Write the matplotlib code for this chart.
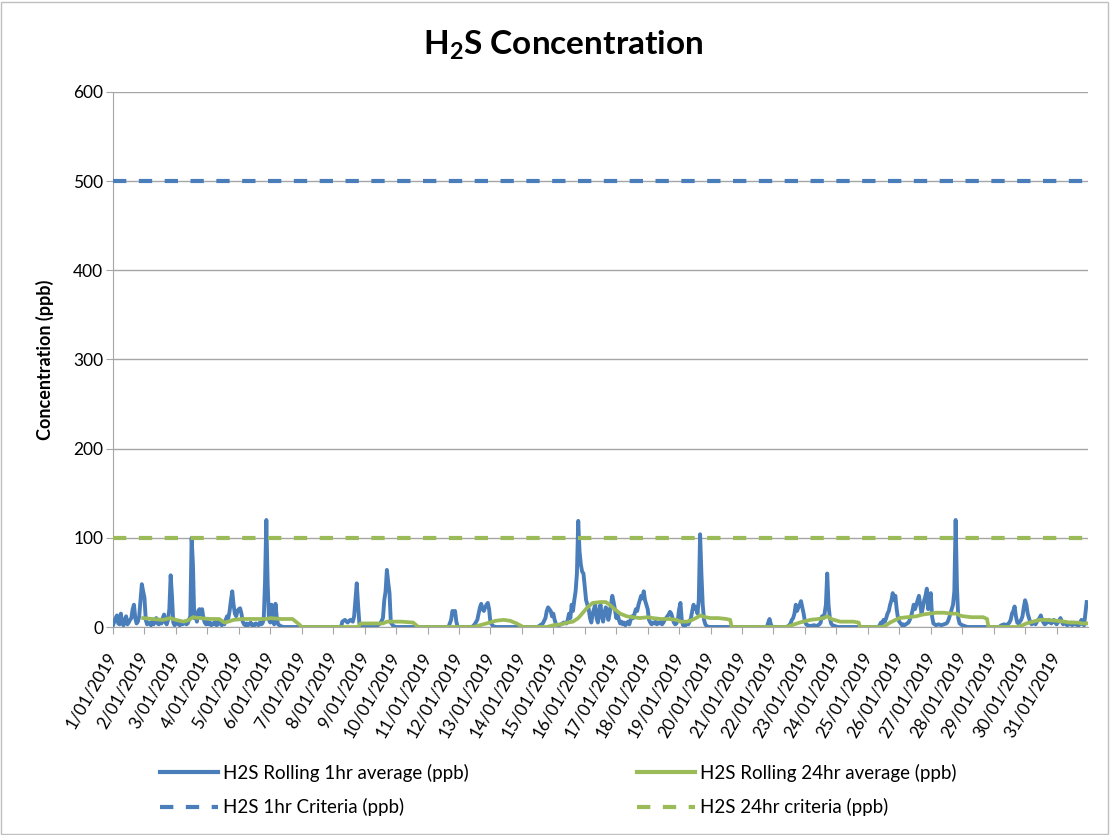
import matplotlib
matplotlib.use("Agg")
import matplotlib.pyplot as plt
from matplotlib.lines import Line2D
from matplotlib.patches import Rectangle

# ================= DATA =================
# hours since 1/01/2019 00:00 -> ppb
hr_1h = [0, 1, 2, 3, 4, 5, 6, 7, 8, 9, 10, 11, 12, 13, 14, 15, 16, 17, 18, 19,
         20, 21, 22, 23, 24, 25, 26, 27, 28, 29, 30, 31, 32, 33, 34, 35, 36, 37, 38, 39,
         40, 41, 42, 43, 44, 45, 46, 47, 48, 49, 50, 51, 52, 53, 54, 55, 56, 57, 58, 59,
         60, 61, 62, 63, 64, 65, 66, 67, 68, 69, 70, 71, 72, 73, 74, 75, 76, 77, 78, 79,
         80, 81, 82, 83, 84, 85, 86, 87, 88, 89, 90, 91, 92, 93, 94, 95, 96, 97, 98, 99,
         100, 101, 102, 103, 104, 105, 106, 107, 108, 109, 110, 111, 112, 113, 114, 115,
         116, 117, 118, 119, 120, 121, 122, 123, 124, 125, 126, 127, 128, 130, 174, 175,
         177, 179, 181, 183, 184, 185, 186, 187, 188, 190, 192, 200, 202, 204, 206, 207,
         208, 209, 210, 211, 212, 214, 216, 256, 258, 259, 260, 261, 262, 263, 274, 276,
         278, 279, 280, 281, 282, 283, 284, 285, 286, 287, 288, 290, 292, 324, 326, 328,
         330, 331, 332, 333, 334, 335, 336, 337, 338, 340, 342, 344, 346, 347, 348, 349,
         350, 351, 352, 353, 354, 355, 356, 357, 358, 359, 360, 361, 362, 363, 364, 365,
         366, 367, 368, 369, 370, 371, 372, 373, 374, 375, 376, 377, 378, 379, 380, 381,
         382, 383, 384, 385, 386, 387, 388, 389, 390, 391, 392, 393, 394, 395, 396, 397,
         398, 399, 400, 401, 402, 403, 404, 405, 406, 407, 408, 409, 410, 411, 412, 413,
         414, 415, 416, 417, 418, 419, 420, 421, 422, 423, 424, 425, 426, 427, 428, 429,
         430, 431, 432, 433, 434, 435, 436, 437, 438, 439, 440, 441, 442, 443, 444, 445,
         446, 447, 448, 449, 450, 451, 452, 453, 455, 499, 500, 501, 502, 503, 514, 516,
         517, 518, 519, 520, 521, 522, 523, 524, 525, 526, 527, 528, 529, 530, 532, 535,
         537, 539, 540, 541, 542, 543, 544, 545, 546, 547, 548, 549, 551, 553, 584, 585,
         586, 587, 588, 589, 590, 591, 592, 593, 594, 595, 596, 597, 598, 599, 600, 601,
         602, 603, 604, 605, 606, 607, 608, 609, 610, 611, 612, 613, 614, 615, 616, 617,
         618, 619, 620, 621, 622, 623, 624, 625, 626, 627, 628, 630, 632, 634, 636, 637,
         638, 639, 640, 641, 642, 643, 644, 645, 646, 647, 648, 650, 652, 676, 678, 680,
         682, 684, 685, 686, 687, 688, 689, 690, 691, 692, 693, 694, 695, 696, 697, 698,
         699, 700, 701, 702, 703, 704, 705, 706, 707, 708, 709, 710, 711, 712, 713, 714,
         715, 716, 717, 718, 719, 720, 721, 722, 723, 724, 725, 726, 727, 728, 729, 730,
         731, 732, 733, 734, 735, 736, 737, 738, 739, 740, 741, 742, 743]
ppb_1h = [2, 6, 10, 13, 4, 3, 15, 4, 2, 8, 12, 3, 5, 8, 10, 20, 25, 10, 4, 6,
          12, 30, 48, 40, 33, 8, 3, 5, 4, 2, 6, 3, 8, 10, 4, 3, 6, 4, 10, 14,
          5, 3, 8, 20, 58, 35, 5, 2, 4, 6, 3, 2, 5, 3, 4, 6, 3, 4, 8, 12,
          100, 70, 10, 13, 6, 18, 20, 14, 20, 10, 5, 3, 6, 3, 5, 2, 4, 3, 6, 2,
          3, 8, 4, 2, 5, 3, 8, 12, 10, 18, 30, 40, 25, 15, 12, 18, 20, 21, 15, 6,
          3, 2, 4, 2, 3, 5, 2, 3, 2, 4, 3, 2, 5, 3, 4, 8,
          50, 120, 50, 8, 5, 25, 8, 3, 26, 10, 3, 2, 1, 0, 0, 6,
          8, 5, 8, 6, 12, 30, 49, 25, 4, 1, 0, 0, 2, 4, 10, 30,
          40, 64, 50, 38, 5, 1, 0, 0, 8, 18, 16, 18, 6, 0, 0, 3,
          8, 15, 22, 26, 20, 18, 22, 25, 27, 20, 5, 1, 0, 0, 2, 4,
          10, 18, 22, 20, 18, 12, 15, 8, 3, 2, 3, 5, 4, 8, 15, 10,
          25, 18, 30, 40, 60, 119, 85, 70, 62, 60, 45, 30, 25, 20, 10, 5,
          15, 20, 25, 10, 5, 18, 25, 12, 6, 15, 22, 20, 8, 15, 25, 35,
          28, 20, 10, 15, 8, 4, 6, 3, 5, 2, 4, 6, 3, 8, 12, 10,
          15, 20, 18, 25, 30, 35, 32, 40, 30, 25, 20, 8, 5, 3, 5, 4,
          6, 3, 5, 4, 6, 3, 5, 8, 10, 12, 14, 17, 15, 10, 5, 3,
          4, 8, 20, 27, 8, 2, 3, 2, 4, 3, 6, 10, 18, 25, 20, 22,
          15, 30, 104, 60, 25, 8, 3, 1, 0, 0, 5, 9, 3, 0, 0, 2,
          4, 8, 10, 15, 25, 18, 22, 25, 29, 22, 15, 6, 3, 2, 1, 2,
          1, 3, 5, 12, 10, 15, 25, 60, 25, 10, 4, 2, 1, 0, 0, 2,
          5, 4, 8, 6, 10, 15, 18, 25, 30, 38, 30, 35, 20, 10, 6, 4,
          2, 3, 2, 3, 4, 5, 8, 12, 18, 25, 20, 25, 30, 35, 25, 15,
          22, 30, 35, 43, 20, 25, 38, 12, 4, 3, 2, 3, 2, 3, 4, 6,
          10, 15, 20, 25, 40, 120, 45, 10, 4, 3, 2, 1, 0, 0, 2, 3,
          2, 5, 8, 15, 18, 23, 12, 5, 4, 6, 8, 12, 22, 30, 25, 15,
          10, 5, 3, 4, 5, 3, 6, 8, 10, 13, 8, 5, 3, 4, 6, 8,
          5, 4, 6, 8, 5, 3, 5, 7, 10, 6, 3, 5, 4, 2, 3, 3,
          5, 2, 5, 3, 3, 2, 2, 4, 8, 3, 2, 15, 28]

hr_24h = [23, 30, 38, 41, 43.5, 48, 54, 58, 61, 66, 74, 81, 85, 88, 92, 99, 108,
          117, 120, 128, 137, 142, 144, 187, 189, 196, 206, 209, 220, 229, 233,
          275, 280, 285, 292, 298, 303, 308, 313, 331, 336, 342, 347, 351, 355,
          358, 362, 366, 372, 376, 379, 382, 387, 392, 397, 402, 408, 412, 418,
          424, 430, 433, 438, 442, 446, 448, 452, 456, 462, 468, 471, 472, 514,
          518, 524, 532, 538, 542, 545, 548, 555, 565, 569, 570, 588, 593, 600,
          606, 613, 618, 623, 628, 634, 640, 644, 646, 649, 655, 664, 667, 668,
          690, 694, 697, 702, 707, 712, 720, 726, 730, 736, 740, 744]
ppb_24h = [10, 9, 8, 9, 10, 8, 6, 8, 11, 10, 9, 9, 5, 6, 8, 9, 9,
           9, 10, 9, 9, 3, 0, 0, 4, 4, 4, 6, 6, 5, 0,
           0, 2, 4, 7, 8, 7, 4, 0, 0, 2, 3, 5, 6, 10,
           15, 22, 27, 28, 28, 25, 21, 15, 12, 11, 10, 11, 10, 9,
           9, 8, 6, 6, 8, 11, 13, 11, 10, 10, 9, 8, 0, 0,
           2, 5, 8, 9, 10, 12, 9, 6, 6, 5, 0, 0, 5, 10,
           11, 12, 14, 15, 16, 16, 15, 15, 13, 12, 11, 11, 9, 0,
           0, 2, 4, 6, 8, 8, 7, 6, 5, 5, 4, 4]

crit_1h = 500
crit_24h = 100
day_labels = [f"{d}/01/2019" for d in range(1, 32)]

BLUE = "#4a7ebb"
GREEN = "#9bbb59"
GRID = "#a6a6a6"
FONT = "Lato"
DASH = (3.2, 3.0)

plt.rcParams.update({
    "font.family": FONT,
    "mathtext.fontset": "custom",
    "mathtext.rm": "Lato:bold",
    "mathtext.it": "Lato:bold",
    "mathtext.bf": "Lato:bold",
})

fig = plt.figure(figsize=(11.10, 8.35), dpi=100)
ax = fig.add_axes([113 / 1110, 1 - 627 / 835, 975 / 1110, 535 / 835])

ax.plot(hr_1h, ppb_1h, color=BLUE, lw=2.8, solid_joinstyle="round", zorder=3)
ax.plot(hr_24h, ppb_24h, color=GREEN, lw=2.7, solid_joinstyle="round", zorder=4)
ax.axhline(crit_1h, color=BLUE, lw=3, dashes=DASH, zorder=5)
ax.axhline(crit_24h, color=GREEN, lw=3, dashes=DASH, zorder=5)

ax.set_xlim(0, 744)
ax.set_ylim(0, 600)
ax.set_yticks(range(0, 601, 100))
ax.set_xticks([d * 24 for d in range(31)])
ax.set_xticklabels(day_labels, rotation=60, ha="right", va="center",
                   rotation_mode="anchor", fontsize=12.4)
ax.tick_params(axis="y", labelsize=12.5, length=5, color=GRID, pad=2)
ax.tick_params(axis="x", length=5, color=GRID, pad=14)
ax.yaxis.grid(True, color=GRID, lw=1)
ax.set_axisbelow(True)
for side in ["top", "right"]:
    ax.spines[side].set_visible(False)
for side in ["left", "bottom"]:
    ax.spines[side].set_color(GRID)
ax.set_ylabel("Concentration (ppb)", fontsize=13, fontweight="bold", labelpad=14)

fig.text(563 / 1110, 1 - 45 / 835, "H$_2$S Concentration", ha="center",
         va="center", fontsize=24, fontweight="bold")

# legend: two single-column blocks
left = [Line2D([], [], color=BLUE, lw=3),
        Line2D([], [], color=BLUE, lw=3, dashes=DASH)]
right = [Line2D([], [], color=GREEN, lw=3),
         Line2D([], [], color=GREEN, lw=3, dashes=DASH)]
kw = dict(frameon=False, fontsize=13.5, handlelength=3.1, handletextpad=0.25,
          labelspacing=0.88, loc="center left", borderaxespad=0, borderpad=0)
fig.legend(left, ["H2S Rolling 1hr average (ppb)", "H2S 1hr Criteria (ppb)"],
           bbox_to_anchor=(160 / 1110, 1 - 790 / 835), **kw)
fig.legend(right, ["H2S Rolling 24hr average (ppb)", "H2S 24hr criteria (ppb)"],
           bbox_to_anchor=(637 / 1110, 1 - 790 / 835), **kw)

fig.patches.append(Rectangle((0.001, 0.001), 0.997, 0.997, transform=fig.transFigure,
                             fill=False, edgecolor="#bfbfbf", lw=1))

fig.savefig("out.png", dpi=100)
